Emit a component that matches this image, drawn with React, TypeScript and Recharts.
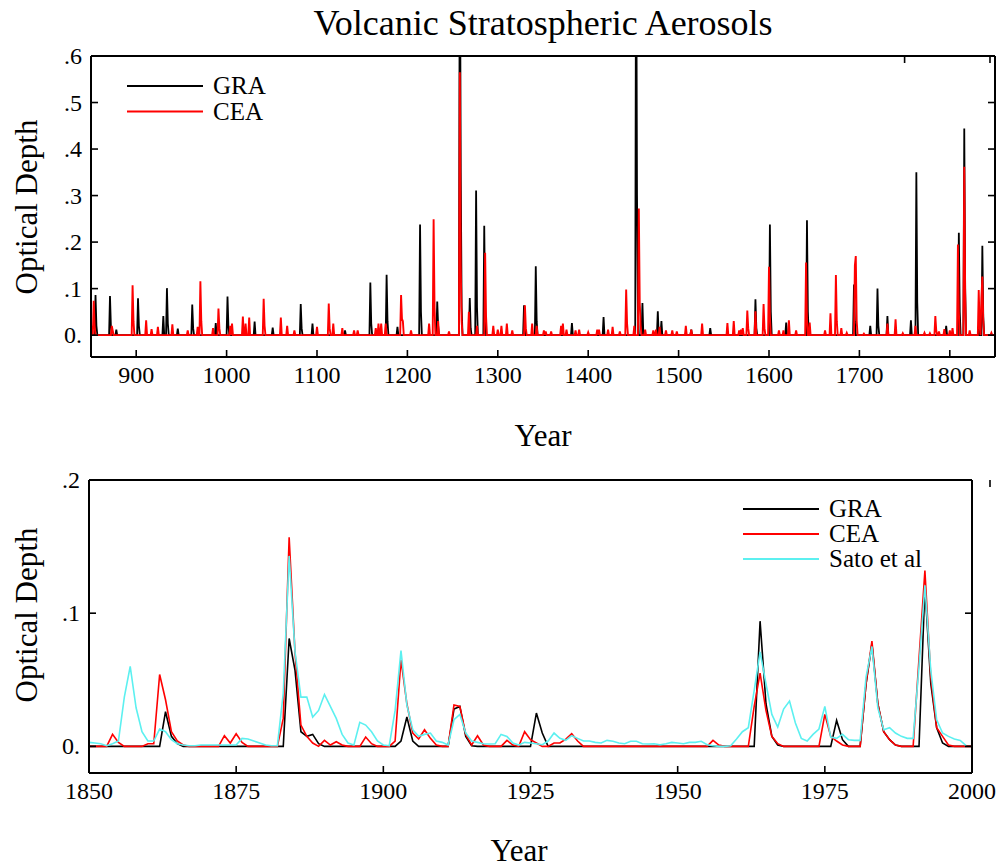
import React from "react";
import { LineChart, Line, XAxis, YAxis, Legend } from "recharts";

const FONT = "'Liberation Serif', 'Times New Roman', serif";
const TICK_LEN = 7;

// Upper panel, 850-1850: only the years that lift off the zero baseline are listed
const GRA_TOP: [number, number][] = [
  [855, 0.086], [856, 0.02], [871, 0.084], [872, 0.02], [878, 0.012],
  [902, 0.079], [903, 0.02], [930, 0.041], [934, 0.101], [935, 0.025],
  [946, 0.014], [962, 0.066], [963, 0.015], [988, 0.026], [1001, 0.083],
  [1002, 0.02], [1031, 0.029], [1051, 0.016], [1082, 0.067], [1083, 0.015],
  [1095, 0.025], [1131, 0.01], [1159, 0.113], [1160, 0.025], [1177, 0.13],
  [1178, 0.03], [1189, 0.018], [1214, 0.238], [1215, 0.05], [1233, 0.072],
  [1234, 0.02], [1258, 0.95], [1259, 0.35], [1260, 0.06], [1269, 0.08],
  [1270, 0.015], [1276, 0.311], [1277, 0.06], [1285, 0.235], [1286, 0.05],
  [1329, 0.064], [1330, 0.015], [1342, 0.148], [1343, 0.03], [1382, 0.026],
  [1417, 0.039], [1453, 0.95], [1454, 0.3], [1455, 0.05], [1460, 0.069],
  [1477, 0.051], [1481, 0.03], [1514, 0.012], [1535, 0.015], [1585, 0.077],
  [1586, 0.015], [1601, 0.238], [1602, 0.05], [1619, 0.027], [1642, 0.247],
  [1643, 0.05], [1694, 0.109], [1695, 0.03], [1712, 0.02], [1720, 0.1],
  [1721, 0.02], [1731, 0.041], [1757, 0.032], [1763, 0.35], [1764, 0.07],
  [1796, 0.02], [1810, 0.22], [1811, 0.05], [1816, 0.444], [1817, 0.1],
  [1832, 0.02], [1836, 0.192], [1837, 0.04],
];

const CEA_TOP: [number, number][] = [
  [851, 0.02], [853, 0.074], [854, 0.02], [873, 0.02], [874, 0.01],
  [896, 0.107], [897, 0.03], [911, 0.032], [917, 0.013], [924, 0.018],
  [940, 0.023], [957, 0.01], [968, 0.018], [971, 0.116], [972, 0.03],
  [985, 0.015], [991, 0.057], [992, 0.015], [1004, 0.02], [1006, 0.025],
  [1018, 0.04], [1021, 0.025], [1025, 0.038], [1041, 0.078], [1042, 0.02],
  [1060, 0.038], [1067, 0.02], [1075, 0.01], [1100, 0.018], [1113, 0.068],
  [1114, 0.015], [1118, 0.025], [1128, 0.015], [1141, 0.01], [1145, 0.01],
  [1165, 0.015], [1168, 0.025], [1171, 0.025], [1176, 0.025], [1193, 0.086],
  [1194, 0.035], [1195, 0.03], [1204, 0.01], [1224, 0.025], [1229, 0.249],
  [1230, 0.06], [1234, 0.03], [1246, 0.008], [1258, 0.565], [1259, 0.15],
  [1260, 0.03], [1268, 0.05], [1277, 0.02], [1286, 0.177], [1287, 0.04],
  [1295, 0.02], [1300, 0.012], [1304, 0.02], [1310, 0.025], [1316, 0.01],
  [1330, 0.064], [1331, 0.015], [1338, 0.025], [1343, 0.02], [1351, 0.01],
  [1353, 0.008], [1359, 0.008], [1370, 0.02], [1372, 0.025], [1376, 0.012],
  [1386, 0.01], [1390, 0.012], [1400, 0.006], [1410, 0.012], [1412, 0.012],
  [1422, 0.012], [1427, 0.018], [1435, 0.008], [1442, 0.098], [1443, 0.025],
  [1451, 0.02], [1456, 0.272], [1457, 0.07], [1458, 0.02], [1463, 0.012],
  [1472, 0.01], [1475, 0.012], [1479, 0.018], [1486, 0.01], [1493, 0.01],
  [1498, 0.008], [1508, 0.02], [1514, 0.012], [1526, 0.025], [1554, 0.026],
  [1561, 0.03], [1567, 0.01], [1569, 0.012], [1571, 0.015], [1576, 0.053],
  [1577, 0.015], [1585, 0.051], [1594, 0.067], [1595, 0.015], [1600, 0.147],
  [1601, 0.04], [1611, 0.01], [1616, 0.01], [1622, 0.032], [1630, 0.01],
  [1641, 0.156], [1642, 0.03], [1645, 0.027], [1662, 0.01], [1668, 0.047],
  [1674, 0.129], [1675, 0.03], [1680, 0.015], [1686, 0.005], [1695, 0.15],
  [1696, 0.17], [1697, 0.03], [1705, 0.003], [1731, 0.025], [1740, 0.034],
  [1748, 0.004], [1762, 0.02], [1772, 0.005], [1778, 0.004], [1784, 0.041],
  [1785, 0.01], [1788, 0.008], [1794, 0.013], [1800, 0.01], [1803, 0.015],
  [1809, 0.195], [1810, 0.05], [1816, 0.362], [1817, 0.09], [1822, 0.01],
  [1832, 0.097], [1833, 0.02], [1835, 0.08], [1836, 0.126], [1837, 0.03],
  [1846, 0.005],
];

// Lower panel, 1850-2000
const GRA_RECENT: [number, number][] = [
  [1863, 0.026], [1864, 0.0075], [1865, 0.002], [1884, 0.081], [1885, 0.057],
  [1886, 0.011], [1887, 0.0075], [1888, 0.009], [1889, 0.002], [1903, 0.004],
  [1904, 0.022], [1905, 0.004], [1912, 0.028], [1913, 0.03], [1914, 0.0075],
  [1915, 0.0005], [1926, 0.025], [1927, 0.01], [1964, 0.094], [1965, 0.032],
  [1966, 0.0075], [1967, 0.001], [1977, 0.0195], [1978, 0.005], [1982, 0.047],
  [1983, 0.077], [1984, 0.032], [1985, 0.011], [1986, 0.005], [1987, 0.001],
  [1992, 0.12], [1993, 0.047], [1994, 0.014], [1995, 0.0025],
];

const CEA_RECENT: [number, number][] = [
  [1854, 0.009], [1855, 0.003], [1860, 0.002], [1861, 0.002], [1862, 0.054],
  [1863, 0.035], [1864, 0.011], [1865, 0.004], [1866, 0.001], [1873, 0.008],
  [1874, 0.0025], [1875, 0.0095], [1876, 0.003], [1883, 0.021], [1884, 0.157],
  [1885, 0.07], [1886, 0.016], [1887, 0.0075], [1888, 0.0025], [1890, 0.0045],
  [1891, 0.001], [1892, 0.0035], [1893, 0.001], [1897, 0.007], [1898, 0.002],
  [1902, 0.004], [1903, 0.065], [1904, 0.032], [1905, 0.01], [1906, 0.0055],
  [1907, 0.0125], [1908, 0.006], [1909, 0.001], [1912, 0.031], [1913, 0.03],
  [1914, 0.009], [1915, 0.001], [1916, 0.008], [1917, 0.001], [1921, 0.0045],
  [1922, 0.001], [1924, 0.011], [1925, 0.005], [1926, 0.0025], [1929, 0.0025],
  [1930, 0.0025], [1931, 0.0055], [1932, 0.0095], [1933, 0.004], [1956, 0.0045],
  [1957, 0.001], [1963, 0.03], [1964, 0.055], [1965, 0.027], [1966, 0.0075],
  [1967, 0.002], [1975, 0.024], [1976, 0.0075], [1977, 0.004], [1978, 0.001],
  [1982, 0.047], [1983, 0.079], [1984, 0.032], [1985, 0.011], [1986, 0.005],
  [1987, 0.001], [1991, 0.066], [1992, 0.132], [1993, 0.052], [1994, 0.014],
  [1995, 0.0075], [1996, 0.001],
];

// Sato et al, every year 1850-1999
const SATO_START = 1850;
const SATO_VALUES = [
  0.003, 0.0025, 0.002, 0.0005, 0.002, 0.004, 0.037, 0.06, 0.029, 0.011,
  0.004, 0.004, 0.013, 0.011, 0.005, 0.002, 0.001, 0.0005, 0.0005, 0.001,
  0.001, 0.001, 0.001, 0.001, 0.001, 0.001, 0.006, 0.0055, 0.004, 0.0025,
  0.001, 0.0005, 0.0005, 0.04, 0.143, 0.071, 0.037, 0.037, 0.022, 0.027,
  0.039, 0.03, 0.021, 0.009, 0.0025, 0.001, 0.018, 0.016, 0.011, 0.004,
  0.001, 0.0005, 0.027, 0.072, 0.031, 0.0125, 0.0075, 0.009, 0.01, 0.004,
  0.003, 0.001, 0.02, 0.024, 0.01, 0.004, 0.003, 0.002, 0.0018, 0.002,
  0.009, 0.0075, 0.0025, 0.001, 0.003, 0.0025, 0.002, 0.0012, 0.004, 0.01,
  0.006, 0.0045, 0.008, 0.006, 0.004, 0.004, 0.003, 0.0025, 0.0045, 0.0038,
  0.0025, 0.002, 0.0038, 0.0038, 0.002, 0.0018, 0.002, 0.0012, 0.002, 0.003,
  0.0025, 0.002, 0.003, 0.003, 0.0038, 0.0012, 0.0005, 0, 0, 0.0005,
  0.0055, 0.011, 0.014, 0.042, 0.071, 0.047, 0.024, 0.0145, 0.028, 0.034,
  0.0175, 0.006, 0.004, 0.009, 0.013, 0.03, 0.007, 0.006, 0.009, 0.005,
  0.0045, 0.0045, 0.052, 0.075, 0.029, 0.0125, 0.014, 0.01, 0.0075, 0.006,
  0.006, 0.06, 0.121, 0.057, 0.02, 0.01, 0.0075, 0.0055, 0.0045, 0.0005,
];

const TOP_X_TICKS = [900, 1000, 1100, 1200, 1300, 1400, 1500, 1600, 1700, 1800];
const TOP_Y_TICKS = [0, 0.1, 0.2, 0.3, 0.4, 0.5, 0.6];
const TOP_Y_LABELS = ["0.", ".1", ".2", ".3", ".4", ".5", ".6"];
const BOTTOM_X_TICKS = [1850, 1875, 1900, 1925, 1950, 1975, 2000];
const BOTTOM_Y_TICKS = [0, 0.1, 0.2];
const BOTTOM_Y_LABELS = ["0.", ".1", ".2"];
const LEGEND_ORDER = ["GRA", "CEA", "Sato et al"];

function buildRows(start: number, end: number, series: Record<string, [number, number][]>) {
  const rows: any[] = [];
  for (let yr = start; yr <= end; yr++) {
    const row: any = { year: yr };
    for (const key of Object.keys(series)) row[key] = 0;
    rows.push(row);
  }
  for (const [key, pts] of Object.entries(series)) {
    pts.forEach(([yr, v]) => {
      rows[yr - start][key] = v;
    });
  }
  return rows;
}

const topRows = buildRows(850, 1850, { gra: GRA_TOP, cea: CEA_TOP });
const bottomRows = buildRows(1850, 2000, { gra: GRA_RECENT, cea: CEA_RECENT });
bottomRows.forEach((r) => {
  const v = SATO_VALUES[r.year - SATO_START];
  r.sato = v === undefined ? null : v;
});

const tickText = { fontFamily: FONT, fontSize: 24, fill: "#000" };

function BottomTick(props: any) {
  const { x, y, payload } = props;
  return (
    <g>
      <line x1={x} y1={y} x2={x} y2={y - TICK_LEN} stroke="#000" strokeWidth={1.6} />
      <text x={x} y={y + 26} textAnchor="middle" {...tickText}>
        {payload.value}
      </text>
    </g>
  );
}

function TopTick(props: any) {
  const { x, y } = props;
  return <line x1={x} y1={y} x2={x} y2={y + TICK_LEN} stroke="#000" strokeWidth={1.6} />;
}

function makeLeftTick(values: number[], labels: string[]) {
  return (props: any) => {
    const { x, y, payload } = props;
    return (
      <g>
        <line x1={x} y1={y} x2={x + TICK_LEN} y2={y} stroke="#000" strokeWidth={1.6} />
        <text x={x - 9} y={y + 8} textAnchor="end" {...tickText}>
          {labels[values.indexOf(payload.value)]}
        </text>
      </g>
    );
  };
}

function RightTick(props: any) {
  const { x, y } = props;
  return <line x1={x} y1={y} x2={x - TICK_LEN} y2={y} stroke="#000" strokeWidth={1.6} />;
}

function legendContent(rowGap: number) {
  return (props: any) => {
    const items = [...(props.payload || [])].sort(
      (a: any, b: any) => LEGEND_ORDER.indexOf(a.value) - LEGEND_ORDER.indexOf(b.value)
    );
    return (
      <svg width={260} height={items.length * rowGap + 12} style={{ overflow: "visible" }}>
        {items.map((it: any, i: number) => (
          <g key={it.value}>
            <line x1={0} x2={76} y1={12 + i * rowGap} y2={12 + i * rowGap} stroke={it.color} strokeWidth={2} />
            <text x={86} y={20 + i * rowGap} fontFamily={FONT} fontSize={25} fill="#000">
              {it.value}
            </text>
          </g>
        ))}
      </svg>
    );
  };
}

const axisLine = { stroke: "#000", strokeWidth: 2 };

export default function App() {
  return (
    <div style={{ position: "absolute", left: 0, top: 0, width: 1006, height: 867, background: "#fff" }}>
      <div style={{ position: "absolute", left: 0, top: 0 }}>
        <LineChart width={1006} height={400} data={topRows} margin={{ top: 55, right: 10, bottom: 42, left: 90 }}>
          <XAxis dataKey="year" type="number" domain={[850, 1850]} ticks={TOP_X_TICKS} allowDataOverflow
            height={1} tickSize={0} tickMargin={0} axisLine={axisLine} tick={<BottomTick />} />
          <XAxis xAxisId="top" orientation="top" type="number" domain={[850, 1850]} ticks={TOP_X_TICKS} allowDataOverflow
            height={1} tickSize={0} tickMargin={0} axisLine={axisLine} tick={<TopTick />} />
          <YAxis type="number" domain={[-0.047, 0.6]} ticks={TOP_Y_TICKS} allowDataOverflow
            width={1} tickSize={0} tickMargin={0} axisLine={axisLine} tick={makeLeftTick(TOP_Y_TICKS, TOP_Y_LABELS)} />
          <YAxis yAxisId="right" orientation="right" type="number" domain={[-0.047, 0.6]} ticks={TOP_Y_TICKS} allowDataOverflow
            width={1} tickSize={0} tickMargin={0} axisLine={axisLine} tick={<RightTick />} />
          <Legend layout="horizontal" verticalAlign="middle" align="center" content={legendContent(25.6)}
            wrapperStyle={{ position: "absolute", left: 127, top: 74, width: 260 }} />
          <Line dataKey="gra" name="GRA" stroke="#000" strokeWidth={1.8} dot={false} isAnimationActive={false} />
          <Line dataKey="cea" name="CEA" stroke="#ff0000" strokeWidth={1.9} dot={false} isAnimationActive={false} />
        </LineChart>
      </div>
      <div style={{ position: "absolute", left: 0, top: 400 }}>
        <LineChart width={1006} height={467} data={bottomRows} margin={{ top: 79, right: 33, bottom: 93, left: 88 }}>
          <XAxis dataKey="year" type="number" domain={[1850, 2000]} ticks={BOTTOM_X_TICKS} allowDataOverflow
            height={1} tickSize={0} tickMargin={0} axisLine={axisLine} tick={<BottomTick />} />
          <XAxis xAxisId="top" orientation="top" type="number" domain={[1850, 2000]} ticks={BOTTOM_X_TICKS} allowDataOverflow
            height={1} tickSize={0} tickMargin={0} axisLine={axisLine} tick={<TopTick />} />
          <YAxis type="number" domain={[-0.02, 0.2]} ticks={BOTTOM_Y_TICKS} allowDataOverflow
            width={1} tickSize={0} tickMargin={0} axisLine={axisLine} tick={makeLeftTick(BOTTOM_Y_TICKS, BOTTOM_Y_LABELS)} />
          <YAxis yAxisId="right" orientation="right" type="number" domain={[-0.02, 0.2]} ticks={BOTTOM_Y_TICKS} allowDataOverflow
            width={1} tickSize={0} tickMargin={0} axisLine={axisLine} tick={<RightTick />} />
          <Legend layout="horizontal" verticalAlign="middle" align="center" content={legendContent(25)}
            wrapperStyle={{ position: "absolute", left: 743, top: 97, width: 260 }} />
          <Line dataKey="gra" name="GRA" stroke="#000" strokeWidth={1.6} dot={false} isAnimationActive={false} />
          <Line dataKey="cea" name="CEA" stroke="#ff0000" strokeWidth={1.6} dot={false} isAnimationActive={false} />
          <Line dataKey="sato" name="Sato et al" stroke="#5cf0f0" strokeWidth={1.6} dot={false} isAnimationActive={false} />
        </LineChart>
      </div>
      <svg width={1006} height={867} style={{ position: "absolute", left: 0, top: 0, pointerEvents: "none" }}>
        <text x={543} y={35} textAnchor="middle" fontFamily={FONT} fontSize={36}>
          Volcanic Stratospheric Aerosols
        </text>
        <text transform="translate(37,207) rotate(-90)" textAnchor="middle" fontFamily={FONT} fontSize={31}>
          Optical Depth
        </text>
        <text x={543} y={446} textAnchor="middle" fontFamily={FONT} fontSize={31}>
          Year
        </text>
        <text transform="translate(37,615) rotate(-90)" textAnchor="middle" fontFamily={FONT} fontSize={31}>
          Optical Depth
        </text>
        <text x={519} y={861} textAnchor="middle" fontFamily={FONT} fontSize={31}>
          Year
        </text>
      </svg>
    </div>
  );
}
